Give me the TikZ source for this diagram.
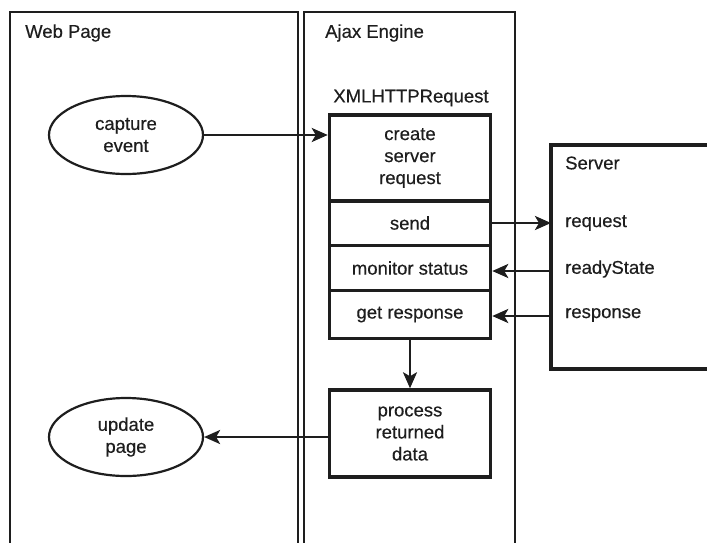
\documentclass[tikz,border=0pt]{standalone}
\usepackage{fontspec}
\setmainfont{Liberation Sans}[FakeBold=0.4]
\usetikzlibrary{arrows.meta,shapes.geometric}
\definecolor{ink}{HTML}{1E1E1E}
\tikzset{
  panel/.style={draw=ink,line width=2.3pt},
  txt/.style={text=ink,font=\fontsize{18.5}{22}\selectfont},
  lbl/.style={txt,inner sep=0pt,anchor=west},
  oval/.style={txt,ellipse,draw=ink,line width=2.2pt,minimum width=154pt,minimum height=78pt,inner sep=0pt,align=center},
  sect/.style={txt,rectangle,draw=ink,line width=3.5pt,minimum width=161pt,inner sep=0pt,align=center},
  arr/.style={draw=ink,line width=2.6pt,-{Stealth[length=16pt,width=14pt,inset=4pt]}},
}
\begin{document}
\begin{tikzpicture}[x=1pt,y=-1pt]
\useasboundingbox (0,0) rectangle (707,542);
\clip (0,0) rectangle (707,542);
% panels
\draw[panel] (10,560) -- (10,12) -- (298,12) -- (298,560);
\draw[panel] (304,560) -- (304,12) -- (515,12) -- (515,560);
\node[lbl] (wp) at (25,33) {Web Page};
\node[lbl] (ae) at (325,33) {Ajax Engine};
% server
\draw[draw=ink,line width=3.5pt] (720,145) -- (551,145) -- (551,369) -- (720,369);
\coordinate (srvw) at (551,257);
\node[lbl] (srv) at (565,163) {Server};
\node[lbl] (req) at (565,223) {request};
\node[lbl] (rdy) at (565,269) {readyState};
\node[lbl] (rsp) at (565,315) {response};
% XMLHTTPRequest
\node[txt,inner sep=0pt] (xml) at (411,98) {XMLHTTPRequest};
\node[sect,minimum height=86pt] (create) at (410,158) {create\\server\\request};
\node[sect,minimum height=45pt] (send) at (410,223) {send};
\node[sect,minimum height=45pt] (mon) at (410,268) {monitor status};
\node[sect,minimum height=48pt] (get) at (410,314.5) {get response};
\node[sect,minimum height=87pt] (proc) at (410,433.5) {process\\returned\\data};
% ellipses
\node[oval] (cap) at (126,135) {capture\\event};
\node[oval] (upd) at (126,437) {update\\page};
% connectors
\draw[arr] (cap.east) -- (cap.east -| create.west);
\draw[arr] (send.east) -- (send.east -| srvw);
\draw[arr] ([yshift=-3pt]mon.east -| srvw) -- ([yshift=-3pt]mon.east);
\draw[arr] ([yshift=-1.5pt]get.east -| srvw) -- ([yshift=-1.5pt]get.east);
\draw[arr] (get.south) -- (proc.north);
\draw[arr] (upd.east -| proc.west) -- (upd.east);
\end{tikzpicture}
\end{document}
